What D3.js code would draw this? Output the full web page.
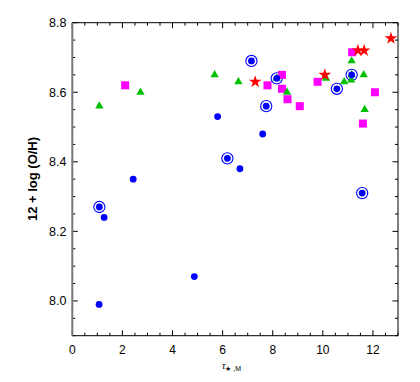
<!DOCTYPE html>
<html>
<head>
<meta charset="utf-8">
<script src="https://cdn.jsdelivr.net/npm/d3@7"></script>
<style>
  body { margin: 0; background: #fff; }
  svg text { font-family: "Liberation Sans", Arial, sans-serif; }
</style>
</head>
<body>
<script>
// blue dots (plain)
const dotX = [1.07, 1.27, 2.43, 4.87, 5.80, 6.69, 7.60];
const dotY = [7.99, 8.24, 8.35, 8.07, 8.53, 8.38, 8.48];
// blue dots with ring
const ringX = [1.08, 6.19, 7.15, 7.74, 8.16, 10.56, 11.15, 11.57];
const ringY = [8.27, 8.41, 8.69, 8.56, 8.64, 8.61, 8.65, 8.31];
// green triangles
const triX = [1.08, 2.72, 5.68, 6.63, 8.16, 8.57, 10.13, 10.85, 11.13, 11.15, 11.15, 11.63, 11.67];
const triY = [8.56, 8.60, 8.65, 8.63, 8.64, 8.60, 8.64, 8.63, 8.635, 8.65, 8.69, 8.65, 8.55];
// magenta squares
const sqX = [2.11, 7.79, 8.37, 8.37, 8.59, 9.08, 9.79, 11.17, 12.08, 11.60];
const sqY = [8.62, 8.62, 8.65, 8.61, 8.58, 8.56, 8.63, 8.715, 8.60, 8.51];
// red stars
const starX = [7.30, 10.08, 11.40, 11.65, 12.72];
const starY = [8.63, 8.65, 8.72, 8.72, 8.755];

const xTicks = [0, 2, 4, 6, 8, 10, 12];
const yTicks = [8.0, 8.2, 8.4, 8.6, 8.8];

const width = 420, height = 382;
const frame = {left: 72.3, right: 398, top: 22.7, bottom: 335.7};

let x = d3.scaleLinear().domain([0, 13]).range([frame.left, frame.right]);
let y = d3.scaleLinear().domain([7.9, 8.8]).range([frame.bottom, frame.top]);

let svg = d3.select("body").append("svg")
    .attr("width", width)
    .attr("height", height);

// ticks, pointing inward on all four sides
let minorX = d3.range(0, 13.01, 0.5);
let minorY = d3.range(7.9, 8.801, 0.05);
let isMajorX = v => Math.abs(v / 2 - Math.round(v / 2)) < 1e-6;
let isMajorY = v => Math.abs(v * 5 - Math.round(v * 5)) < 1e-6;

let ticks = svg.append("g").attr("stroke", "#000").attr("stroke-width", 1);
minorX.forEach(v => {
    let len = isMajorX(v) ? 5.5 : 3;
    ticks.append("line").attr("x1", x(v)).attr("x2", x(v)).attr("y1", frame.bottom).attr("y2", frame.bottom - len);
    ticks.append("line").attr("x1", x(v)).attr("x2", x(v)).attr("y1", frame.top).attr("y2", frame.top + len);
});
minorY.forEach(v => {
    let len = isMajorY(v) ? 5.5 : 3;
    ticks.append("line").attr("x1", frame.left).attr("x2", frame.left + len).attr("y1", y(v)).attr("y2", y(v));
    ticks.append("line").attr("x1", frame.right).attr("x2", frame.right - len).attr("y1", y(v)).attr("y2", y(v));
});

// frame
svg.append("line").attr("x1", frame.left).attr("x2", frame.right).attr("y1", frame.top).attr("y2", frame.top).attr("stroke", "#000");
svg.append("line").attr("x1", frame.left).attr("x2", frame.right).attr("y1", frame.bottom).attr("y2", frame.bottom).attr("stroke", "#000");
svg.append("line").attr("x1", frame.right).attr("x2", frame.right).attr("y1", frame.top).attr("y2", frame.bottom).attr("stroke", "#000");
svg.append("line").attr("x1", frame.left).attr("x2", frame.left).attr("y1", frame.top).attr("y2", frame.bottom).attr("stroke", "#777").attr("stroke-width", 2);

// tick labels
svg.append("g").selectAll("text")
    .data(xTicks)
    .enter()
    .append("text")
    .attr("x", d => x(d))
    .attr("y", 353.5)
    .attr("text-anchor", "middle")
    .attr("font-size", 12)
    .text(d => d);

svg.append("g").selectAll("text")
    .data(yTicks)
    .enter()
    .append("text")
    .attr("x", 66.5)
    .attr("y", d => y(d) + 4.3)
    .attr("text-anchor", "end")
    .attr("font-size", 12.5)
    .text(d => d.toFixed(1));

// axis titles
svg.append("text")
    .attr("transform", "translate(37,179) rotate(-90)")
    .attr("text-anchor", "middle")
    .attr("font-size", 13)
    .attr("font-weight", "bold")
    .text("12 + log (O/H)");

let xl = svg.append("text").attr("x", 222).attr("y", 369);
xl.append("tspan").attr("font-size", 9).attr("font-style", "italic").text("τ");
xl.append("tspan").attr("font-size", 7).attr("dy", 2).text("★ ,M");

// marks
let plot = svg.append("g");

plot.append("g").selectAll("circle")
    .data(d3.range(ringX.length))
    .enter()
    .append("circle")
    .attr("cx", i => x(ringX[i]))
    .attr("cy", i => y(ringY[i]))
    .attr("r", 5.6)
    .attr("fill", "none")
    .attr("stroke", "#0000ff")
    .attr("stroke-width", 1.1);

let sqSize = 8;
plot.append("g").selectAll("rect")
    .data(d3.range(sqX.length))
    .enter()
    .append("rect")
    .attr("x", i => x(sqX[i]) - sqSize / 2)
    .attr("y", i => y(sqY[i]) - sqSize / 2)
    .attr("width", sqSize)
    .attr("height", sqSize)
    .attr("fill", "#ff00ff");

let tri = d3.symbol().type(d3.symbolTriangle).size(30);
plot.append("g").selectAll("path")
    .data(d3.range(triX.length))
    .enter()
    .append("path")
    .attr("d", tri)
    .attr("transform", i => "translate(" + x(triX[i]) + "," + y(triY[i]) + ")")
    .attr("fill", "#00c000");

plot.append("g").selectAll("circle")
    .data(d3.range(dotX.length).map(i => [dotX[i], dotY[i]]).concat(d3.range(ringX.length).map(i => [ringX[i], ringY[i]])))
    .enter()
    .append("circle")
    .attr("cx", d => x(d[0]))
    .attr("cy", d => y(d[1]))
    .attr("r", 3.4)
    .attr("fill", "#0000ff");

let star = d3.symbol().type(d3.symbolStar).size(50);
plot.append("g").selectAll("path")
    .data(d3.range(starX.length))
    .enter()
    .append("path")
    .attr("d", star)
    .attr("transform", i => "translate(" + x(starX[i]) + "," + y(starY[i]) + ")")
    .attr("fill", "#ff0000");
</script>
</body>
</html>
